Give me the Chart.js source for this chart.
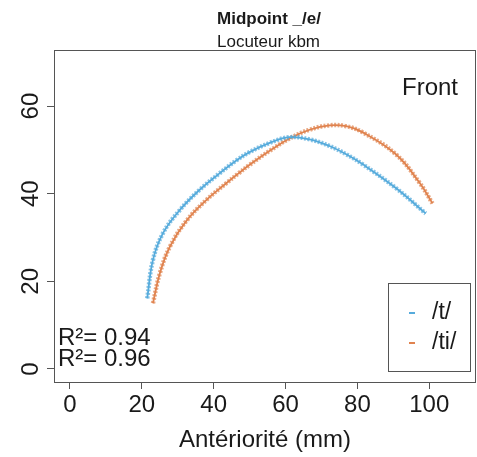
<!DOCTYPE html>
<html>
<head>
<meta charset="utf-8">
<script src="https://cdn.jsdelivr.net/npm/chart.js@4.4.1/dist/chart.umd.min.js"></script>
<style>
  html, body { margin: 0; padding: 0; background: #fff; }
  #wrap { width: 477px; height: 457px; position: relative; }
</style>
</head>
<body>
<div id="wrap"><canvas id="chart" width="477" height="457"></canvas></div>
<script>
// values
const xTicks = [0, 20, 40, 60, 80, 100];
const yTicks = [0, 20, 40, 60];

const tX = [21.5, 23.1, 25.9, 30.6, 36.1, 41.7, 46.3, 50.0, 55.6, 61.1, 66.7, 72.2, 76.9, 81.5, 90.7, 99.0];
const tY = [16.1, 24.9, 31.0, 36.3, 40.9, 44.7, 47.6, 49.5, 51.6, 52.9, 52.4, 50.9, 49.0, 46.7, 41.3, 35.5];

const tiX = [23.1, 25.0, 27.8, 32.4, 38.0, 43.5, 47.0, 50.0, 55.6, 61.1, 66.7, 72.2, 76.9, 81.5, 90.7, 97.2, 100.9];
const tiY = [15.0, 21.8, 27.9, 33.8, 38.6, 42.4, 44.7, 46.6, 49.8, 52.6, 54.6, 55.6, 55.4, 54.0, 49.0, 42.6, 37.8];

const seriesNames = ['/t/', '/ti/'];
const r2Labels = ['R²= 0.94', 'R²= 0.96'];

const BLUE = '#56abdc';
const ORANGE = '#e0834f';
const FONT = "'Liberation Sans', Arial, sans-serif";
const INK = '#1a1a1a';

const pts = (xs, ys) => xs.map((x, i) => ({ x, y: ys[i] }));

function lineSet(data, color, width, dash) {
  return {
    data,
    showLine: true,
    borderColor: color,
    borderWidth: width,
    borderDash: dash,
    pointRadius: 0,
    tension: 0.4,
  };
}

// ── box, titles, y labels, legend, annotations ────────────────────────────────
const decor = {
  id: 'decor',
  afterDraw(chart) {
    const { ctx, chartArea: a, scales } = chart;
    ctx.save();
    ctx.strokeStyle = '#555';
    ctx.lineWidth = 1;
    ctx.strokeRect(a.left + 0.5, a.top + 0.5, a.right - a.left - 1, a.bottom - a.top);

    ctx.fillStyle = INK;
    ctx.textAlign = 'left';
    ctx.textBaseline = 'alphabetic';
    ctx.font = `bold 17px ${FONT}`;
    ctx.fillText('Midpoint _/e/', 217, 24);
    ctx.font = `17px ${FONT}`;
    ctx.fillText('Locuteur kbm', 217, 47);

    // y tick labels, rotated like R's las=0
    ctx.textAlign = 'center';
    ctx.font = `24px ${FONT}`;
    ctx.textBaseline = 'middle';
    yTicks.forEach(v => {
      ctx.save();
      ctx.translate(31, scales.y.getPixelForValue(v));
      ctx.rotate(-Math.PI / 2);
      ctx.fillText(String(v), 0, 0);
      ctx.restore();
    });

    ctx.textAlign = 'left';
    ctx.textBaseline = 'alphabetic';
    ctx.fillText('Front', 402, 95);

    ctx.fillText(r2Labels[0], 58, 345);
    ctx.fillText(r2Labels[1], 58, 366);

    // legend
    ctx.strokeStyle = '#555';
    ctx.strokeRect(388.5, 283.5, 82, 88);
    [BLUE, ORANGE].forEach((c, i) => {
      const y = 313 + i * 30;
      ctx.fillStyle = c;
      ctx.fillRect(409, y - 1, 6, 2);
      ctx.fillStyle = INK;
      ctx.textBaseline = 'middle';
      ctx.font = `23px ${FONT}`;
      ctx.fillText(seriesNames[i], 432, y);
    });
    ctx.restore();
  }
};

new Chart(document.getElementById('chart'), {
  type: 'scatter',
  data: {
    datasets: [
      lineSet(pts(tX, tY), 'rgba(86,171,220,0.7)', 4.5, [2, 1.5]),
      lineSet(pts(tX, tY), BLUE, 1.8, []),
      lineSet(pts(tiX, tiY), 'rgba(224,131,79,0.7)', 4.5, [2, 1.5]),
      lineSet(pts(tiX, tiY), ORANGE, 1.8, []),
    ],
  },
  options: {
    responsive: false,
    animation: false,
    layout: { padding: { top: 50, right: 1, left: 0, bottom: 0 } },
    plugins: { legend: { display: false }, tooltip: { enabled: false } },
    scales: {
      x: {
        type: 'linear',
        min: -4.44,
        max: 113,
        afterBuildTicks: s => { s.ticks = xTicks.map(v => ({ value: v })); },
        afterFit: s => { s.height = 75; },
        border: { display: false },
        grid: { drawOnChartArea: false, tickLength: 7, color: '#555' },
        ticks: { color: INK, font: { family: FONT, size: 24 }, padding: 2, maxRotation: 0 },
        title: {
          display: true,
          text: 'Antériorité (mm)',
          color: INK,
          font: { family: FONT, size: 24 },
          padding: { top: 0, bottom: 2 },
        },
      },
      y: {
        type: 'linear',
        min: -2.97,
        max: 72.8,
        afterBuildTicks: s => { s.ticks = yTicks.map(v => ({ value: v })); },
        afterFit: s => { s.width = 54; },
        border: { display: false },
        grid: { drawOnChartArea: false, tickLength: 7, color: '#555' },
        ticks: { display: false },
      },
    },
  },
  plugins: [decor],
});
</script>
</body>
</html>
